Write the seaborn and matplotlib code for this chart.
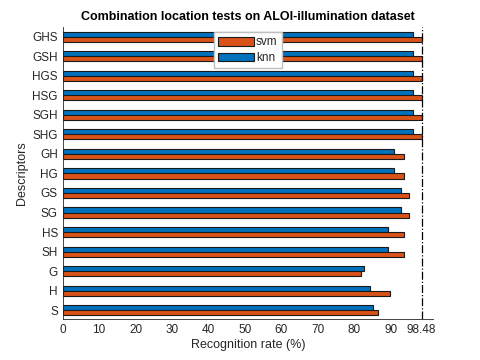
import pandas as pd
import matplotlib
matplotlib.use('Agg')
import matplotlib.pyplot as plt
import seaborn as sns

# descriptors, top to bottom as in the figure
descriptors = ["GHS", "GSH", "HGS", "HSG", "SGH", "SHG", "GH", "HG",
               "GS", "SG", "HS", "SH", "G", "H", "S"]
svm_rate = [98.48, 98.48, 98.48, 98.48, 98.48, 98.48, 93.7, 93.7,
            94.9, 94.9, 93.7, 93.7, 81.9, 89.9, 86.4]
knn_rate = [96.0, 96.0, 96.0, 96.0, 96.0, 96.0, 91.0, 91.0,
            92.7, 92.7, 89.3, 89.3, 82.7, 84.4, 85.1]
best_rate = 98.48
x_ticks = [0, 10, 20, 30, 40, 50, 60, 70, 80, 90, best_rate]
x_ticklabels = ["0", "10", "20", "30", "40", "50", "60", "70", "80", "90", "98.48"]

df = pd.DataFrame({"Descriptor": descriptors * 2,
                   "rate": knn_rate + svm_rate,
                   "clf": ["knn"] * len(descriptors) + ["svm"] * len(descriptors)})

sns.set_style("white")
plt.rcParams['font.family'] = ['Liberation Sans', 'DejaVu Sans']

fig = plt.figure(figsize=(4.8, 3.6), dpi=100)
ax = fig.add_axes([0.1306, 0.114, 0.7714, 0.811])

palette = {"svm": "#D95319", "knn": "#0072BD"}
sns.barplot(data=df, x="rate", y="Descriptor", hue="clf", order=descriptors,
            hue_order=["knn", "svm"], palette=palette, width=0.52,
            edgecolor="#1a1a1a", linewidth=0.8, saturation=1, ax=ax)

ax.axvline(best_rate, color="black", linestyle="-.", linewidth=0.9)

ax.set_xlim(0, 101.6)
ax.set_ylim(14.45, -0.5)
ax.set_xticks(x_ticks)
ax.set_xticklabels(x_ticklabels)
ax.tick_params(direction="in", length=3, labelsize=8.5, colors="#262626",
               width=0.6)
for side in ["top", "right"]:
    ax.spines[side].set_visible(False)
for side in ["left", "bottom"]:
    ax.spines[side].set_color("#262626")
    ax.spines[side].set_linewidth(0.6)

ax.set_title("Combination location tests on ALOI-illumination dataset",
             fontsize=9, fontweight="bold", color="black", pad=5)
ax.set_xlabel("Recognition rate (%)", fontsize=9, color="#262626", labelpad=2)
ax.set_ylabel("Descriptors", fontsize=9, color="#262626", labelpad=3)

handles, labels = ax.get_legend_handles_labels()
order = [labels.index("svm"), labels.index("knn")]
ax.legend([handles[i] for i in order], [labels[i] for i in order],
          loc="upper center", bbox_to_anchor=(0.5, 1.0), fontsize=8.5,
          frameon=True, fancybox=False, edgecolor="#bfbfbf", framealpha=1,
          handlelength=3.0, handleheight=0.72, handletextpad=0.2,
          borderpad=0.35, labelspacing=0.3, borderaxespad=0.45,
          labelcolor="#262626")

plt.savefig("out.png", dpi=100)
plt.close()
